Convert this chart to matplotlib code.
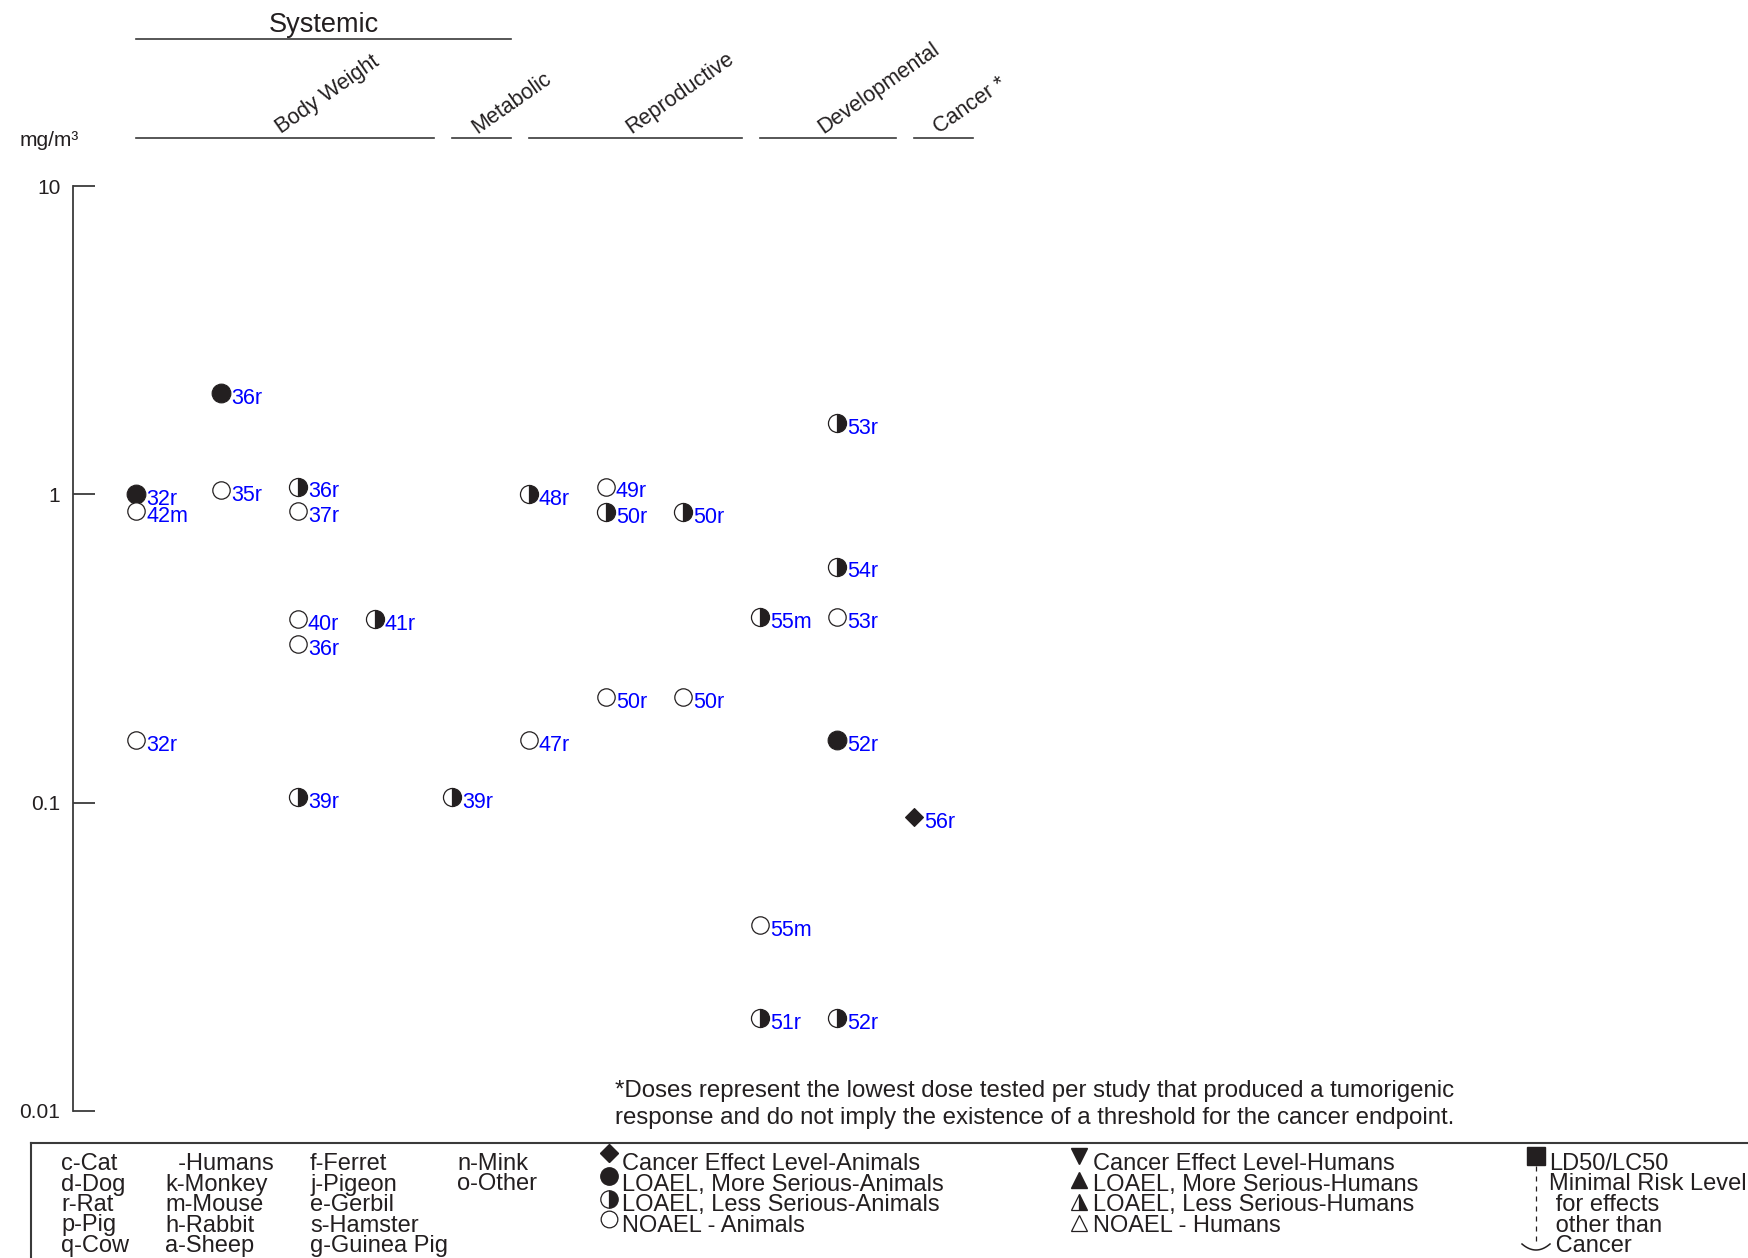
import matplotlib
matplotlib.use("Agg")
import matplotlib.pyplot as plt
import matplotlib.transforms as mtransforms
from matplotlib.ticker import FixedLocator, NullLocator, FixedFormatter
import numpy as np

plt.rcParams['font.family'] = ['Liberation Sans', 'DejaVu Sans']

# ---------------- data ----------------
endpoints = ['Body Weight', 'Metabolic', 'Reproductive', 'Developmental', 'Cancer *']
group_start = [0, 4, 5, 8, 10]
group_end = [3, 4, 7, 9, 10]
systemic_start, systemic_end = 0, 4

point_col = [0, 0, 0, 1, 1, 2, 2, 2, 2, 2, 3, 4, 5, 5, 6, 6, 6, 7, 7, 8, 8, 8, 9, 9, 9, 9, 9, 10]
point_val = [1.0, 0.88, 0.16, 2.13, 1.03, 1.06, 0.88, 0.395, 0.327, 0.104, 0.395, 0.104,
             1.0, 0.16, 1.06, 0.877, 0.22, 0.877, 0.22, 0.40, 0.04, 0.02,
             1.70, 0.583, 0.40, 0.16, 0.02, 0.09]
point_type = ['serious', 'noael', 'noael', 'serious', 'noael', 'less', 'noael', 'noael', 'noael', 'less',
              'less', 'less', 'less', 'noael', 'noael', 'less', 'noael', 'less', 'noael',
              'less', 'noael', 'less', 'less', 'less', 'noael', 'serious', 'less', 'cel']
point_label = ['32r', '42m', '32r', '36r', '35r', '36r', '37r', '40r', '36r', '39r',
               '41r', '39r', '48r', '47r', '49r', '50r', '50r', '50r', '50r',
               '55m', '55m', '51r', '53r', '54r', '53r', '52r', '52r', '56r']

y_ticks = [0.01, 0.1, 1, 10]
y_tick_labels = ['0.01', '0.1', '1', '10']

species_cols = [
    ['c-Cat', 'd-Dog', 'r-Rat', 'p-Pig', 'q-Cow'],
    ['  -Humans', 'k-Monkey', 'm-Mouse', 'h-Rabbit', 'a-Sheep'],
    ['f-Ferret', 'j-Pigeon', 'e-Gerbil', 's-Hamster', 'g-Guinea Pig'],
    ['n-Mink', 'o-Other'],
]
animal_legend = ['Cancer Effect Level-Animals', 'LOAEL, More Serious-Animals',
                 'LOAEL, Less Serious-Animals', 'NOAEL - Animals']
human_legend = ['Cancer Effect Level-Humans', 'LOAEL, More Serious-Humans',
                'LOAEL, Less Serious-Humans', 'NOAEL - Humans']
other_legend = ['LD50/LC50', 'Minimal Risk Level', ' for effects', ' other than', ' Cancer']
footnote = ("*Doses represent the lowest dose tested per study that produced a tumorigenic\n"
            "response and do not imply the existence of a threshold for the cancer endpoint.")

# ---------------- figure ----------------
W, H = 1748, 1258
fig = plt.figure(figsize=(W / 100, H / 100), dpi=100)
DARK = '#231f20'
LINE = '#3a3a3a'
BLUE = '#0000ff'

ax_left, ax_right, ax_top, ax_bot = 73, 1700, 186, 1111
ax = fig.add_axes([ax_left / W, 1 - ax_bot / H, (ax_right - ax_left) / W, (ax_bot - ax_top) / H])
x0, dx = 136, 77
ax.set_xlim((ax_left - x0) / dx, (ax_right - x0) / dx)
ax.set_yscale('log')
ax.set_ylim(0.01, 10)
for s in ['top', 'right', 'bottom']:
    ax.spines[s].set_visible(False)
ax.spines['left'].set_color(LINE)
ax.spines['left'].set_linewidth(1.3)
ax.set_xticks([])
ax.yaxis.set_major_locator(FixedLocator(y_ticks))
ax.yaxis.set_major_formatter(FixedFormatter(y_tick_labels))
ax.yaxis.set_minor_locator(NullLocator())
ax.tick_params(axis='y', direction='in', length=16, width=1.3, color=LINE, pad=9,
               labelsize=15, labelcolor=DARK)
ax.patch.set_alpha(0)


def colpos(c):
    # first column sits a little closer to the axis than the regular spacing
    c = np.asarray(c, dtype=float)
    return np.where(c > 0, c + 0.1, c)


styles = {
    'serious': dict(marker='o', ms=13.5, mfc=DARK, mec=DARK, mew=0.8),
    'noael': dict(marker='o', ms=12.5, mfc='white', mec=DARK, mew=0.9),
    'less': dict(marker='o', ms=13, fillstyle='right', mfc=DARK, markerfacecoloralt='white', mec=DARK, mew=0.9),
    'cel': dict(marker='D', ms=9, mfc=DARK, mec=DARK, mew=0.8),
}
for c, v, t, lab in zip(point_col, point_val, point_type, point_label):
    xp = float(colpos(c))
    ax.plot([xp], [v], ls='none', clip_on=False, zorder=3, **styles[t])
    ax.annotate(lab, (xp, v), xytext=(7.3, -7.8), textcoords='offset points',
                ha='left', va='baseline', fontsize=15.5, color=BLUE)

# ---------------- headers ----------------
trans = mtransforms.blended_transform_factory(ax.transData, fig.transFigure)
ext = 0.77
s0, s1 = float(colpos(systemic_start)), float(colpos(systemic_end)) + ext
ax.plot([s0, s1], [1 - 39 / H] * 2, transform=trans, color=LINE, lw=1.2, clip_on=False)
fig.text((s0 + s1) / 2, 1 - 32 / H, 'Systemic', fontsize=19.5, color=DARK, ha='center', va='baseline',
         transform=trans)
off = mtransforms.offset_copy(trans, fig=fig, x=-4, y=0, units='dots')
for name, gs, ge in zip(endpoints, group_start, group_end):
    a, b = float(colpos(gs)), float(colpos(ge)) + ext
    ax.plot([a, b], [1 - 138 / H] * 2, transform=trans, color=LINE, lw=1.2, clip_on=False)
    fig.text((a + b) / 2, 1 - 134 / H, name, transform=off, rotation=35,
             rotation_mode='anchor', ha='left', va='baseline', fontsize=15.5, color=DARK)

fig.text(20 / W, 1 - 146 / H, 'mg/m³', fontsize=15, color=DARK, ha='left', va='baseline')

# ---------------- footnote & legend (figure pixel overlay) ----------------
lax = fig.add_axes([0, 0, 1, 1], zorder=-1)
lax.set_xlim(0, W)
lax.set_ylim(H, 0)
lax.axis('off')

lax.text(615, 1097, footnote.split('\n')[0], fontsize=17.3, color=DARK, ha='left', va='baseline')
lax.text(615, 1124, footnote.split('\n')[1], fontsize=17.3, color=DARK, ha='left', va='baseline')

lax.plot([31, W + 5], [1143, 1143], color=LINE, lw=1.5, clip_on=False)
lax.plot([31, 31], [1143, H + 5], color=LINE, lw=1.5, clip_on=False)

rows = [1170, 1190.5, 1211, 1231.5, 1252]
col_x = [61, 165, 310, 457]
for cx, items in zip(col_x, species_cols):
    for r, s in zip(rows, items):
        lax.text(cx, r, s, fontsize=17, color=DARK, ha='left', va='baseline')

for r, s in zip(rows, animal_legend):
    lax.text(622, r, s, fontsize=17, color=DARK, ha='left', va='baseline')
for r, s in zip(rows, human_legend):
    lax.text(1093, r, s, fontsize=17, color=DARK, ha='left', va='baseline')
for r, s in zip(rows, other_legend):
    lax.text(1549, r, s, fontsize=17, color=DARK, ha='left', va='baseline')

# legend symbols
lx = 609
lax.plot([lx], [1153], marker='D', ms=9, mfc=DARK, mec=DARK, ls='none')
lax.plot([lx], [1176], marker='o', ms=12.5, mfc=DARK, mec=DARK, ls='none')
lax.plot([lx], [1199], marker='o', ms=12.5, fillstyle='right', mfc=DARK, markerfacecoloralt='white',
         mec=DARK, mew=0.9, ls='none')
lax.plot([lx], [1219], marker='o', ms=12, mfc='white', mec=DARK, mew=0.9, ls='none')

tx = 1079
lax.plot([tx], [1156], marker='v', ms=12, mfc=DARK, mec=DARK, ls='none')
lax.plot([tx], [1180], marker='^', ms=12, mfc=DARK, mec=DARK, ls='none')
lax.plot([tx], [1202], marker='^', ms=12, fillstyle='right', mfc=DARK, markerfacecoloralt='white',
         mec=DARK, mew=0.9, ls='none')
lax.plot([tx], [1223], marker='^', ms=11.5, mfc='white', mec=DARK, mew=0.9, ls='none')

sx = 1536
lax.plot([sx], [1156], marker='s', ms=12.5, mfc=DARK, mec=DARK, ls='none')
lax.plot([sx, sx], [1166, 1243], color=DARK, lw=0.9, ls=(0, (4, 4)))
tt = np.linspace(-1, 1, 30)
lax.plot(sx + 14 * tt, 1245 + 6 * (1 - tt ** 2) - 1, color=DARK, lw=1.1)

fig.savefig('out.png', dpi=100)
